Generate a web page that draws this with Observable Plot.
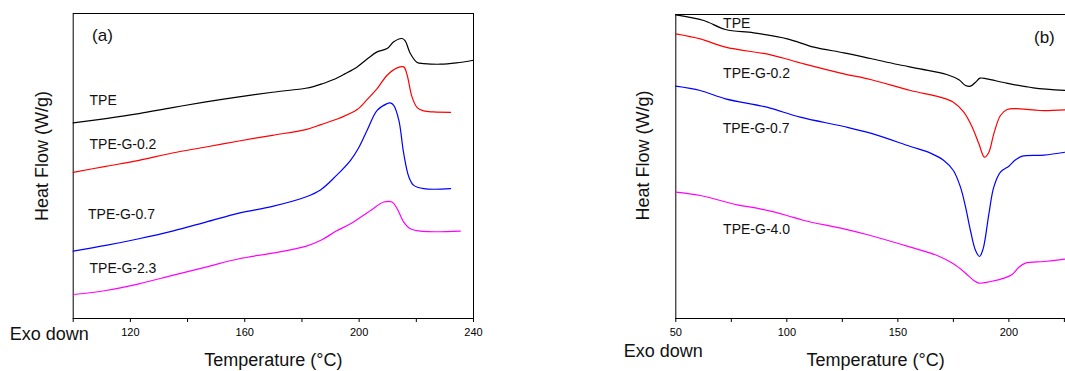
<!DOCTYPE html>
<html>
<head>
<meta charset="utf-8">
<script src="https://cdn.jsdelivr.net/npm/d3@7"></script>
<script src="https://cdn.jsdelivr.net/npm/@observablehq/plot@0.6"></script>
<style>
  html, body { margin: 0; padding: 0; background: #fff; overflow: hidden; }
  #wrap { position: relative; width: 1065px; height: 371px; overflow: hidden; }
  #pa { position: absolute; left: 0; top: 0; }
  #pb { position: absolute; left: 560px; top: 0; }
  svg { font-family: "Liberation Sans", Arial, sans-serif; }
</style>
</head>
<body>
<div id="wrap"><div id="pa"></div><div id="pb"></div></div>
<script>
// ---------- Panel (a): heating scans, [temperature °C, heat flow (arb.)] ----------
const a_TPE = [[100,5.86],[111.4,5.99],[123,6.14],[134.7,6.32],[146.4,6.49],[158,6.64],[169.7,6.78],[181.3,6.90],[184,6.95],[187,7.03],[191.1,7.16],[195,7.33],[199.3,7.54],[203,7.79],[206.3,7.99],[209.8,8.09],[212.1,8.29],[215,8.39],[216.1,8.32],[217.9,7.94],[220.3,7.67],[222.6,7.64],[228.4,7.62],[234,7.66],[240,7.74]];
const a_G02 = [[100,4.38],[111.4,4.56],[123,4.74],[134.7,4.96],[146.4,5.14],[158,5.32],[169.7,5.49],[181.3,5.66],[186.6,5.81],[193,6.00],[199.3,6.26],[203,6.58],[206.3,6.89],[209.8,7.29],[213.3,7.51],[215.6,7.54],[216.8,7.29],[218.5,6.64],[220.3,6.32],[222.6,6.22],[226,6.19],[232,6.18]];
const a_G07 = [[100,2.02],[111.4,2.19],[123,2.39],[134.7,2.62],[146.4,2.89],[158,3.16],[169.7,3.36],[181.3,3.64],[186.6,3.86],[192,4.28],[197,4.74],[200,5.14],[202.8,5.64],[206.3,6.24],[209.8,6.44],[210.8,6.46],[212.1,6.39],[213.9,5.94],[215.6,4.94],[217.4,4.24],[219.1,3.99],[222.6,3.89],[232,3.89]];
const a_G23 = [[100,0.72],[111.4,0.84],[123,1.04],[134.7,1.29],[146.4,1.54],[158,1.79],[169.7,1.96],[181.3,2.16],[187,2.36],[192,2.62],[197,2.84],[204,3.24],[208.6,3.49],[211.5,3.49],[213.3,3.29],[215.6,2.89],[217.9,2.69],[222.6,2.61],[235.4,2.62]];
const a_names = ["TPE", "TPE-G-0.2", "TPE-G-0.7", "TPE-G-2.3"];
const a_labelAt = [[105.7,6.54],[105.7,5.21],[105.2,3.11],[105.7,1.51]];
const a_ticks = [100,120,140,160,180,200,220,240];
const a_tickLabels = [120,160,200,240];

// ---------- Panel (b): cooling scans ----------
const b_TPE = [[50,9.11],[62.6,8.94],[72.4,8.67],[85,8.57],[100.2,8.39],[112.2,8.14],[125.7,7.97],[137.7,7.80],[150,7.62],[160,7.49],[172,7.32],[177.5,7.16],[180.5,6.99],[182.7,6.97],[185,7.09],[187,7.21],[190,7.19],[199,7.06],[211,6.92],[225.5,6.84]];
const b_G02 = [[50,8.54],[61,8.39],[72.4,8.14],[92.7,7.91],[107.7,7.64],[125.7,7.34],[137.7,7.17],[155.7,6.84],[169,6.64],[175,6.49],[179.7,6.19],[183.5,5.74],[186.5,5.24],[189,4.84],[191,4.99],[193.2,5.54],[196.2,6.09],[199.2,6.27],[205,6.29],[214,6.24],[225.5,6.26]];
const b_G07 = [[50,6.97],[61,6.84],[72.4,6.59],[91,6.34],[106,6.04],[125.7,5.76],[137.7,5.56],[155.7,5.16],[164.7,4.96],[170.7,4.74],[175,4.44],[178.2,3.94],[180.5,3.34],[182.7,2.64],[185,2.04],[186.8,1.86],[188.4,2.09],[191,3.14],[193.2,3.94],[196.2,4.39],[200,4.57],[203,4.76],[206,4.87],[215.8,4.90],[225.5,4.99]];
const b_G40 = [[50,3.79],[61,3.69],[77.7,3.41],[88,3.29],[100,3.09],[107.7,2.94],[125.7,2.69],[136,2.52],[155.7,2.14],[167.7,1.89],[175,1.64],[180.5,1.36],[184.2,1.14],[186.5,1.06],[191.8,1.11],[197.8,1.21],[201.5,1.32],[204.5,1.54],[207.5,1.66],[215.8,1.71],[225.5,1.78]];
const b_names = ["TPE", "TPE-G-0.2", "TPE-G-0.7", "TPE-G-4.0"];
const b_labelAt = [[71.3,8.84],[71.3,7.36],[71.1,5.71],[71.3,2.67]];
const b_ticks = [50,75,100,125,150,175,200,225];
const b_tickLabels = [50,100,150,200];

const colors = ["#000000", "#ff0000", "#0000ff", "#ff00ff"];
const font = "Liberation Sans, Arial, sans-serif";

function lineMarks(series) {
  return series.map((s, i) => Plot.line(s, {x: d => d[0], y: d => d[1], stroke: colors[i], strokeWidth: 1.2, curve: "catmull-rom"}));
}
function labelMarks(names, at) {
  return Plot.text(names.map((n, i) => ({n, x: at[i][0], y: at[i][1]})),
    {x: "x", y: "y", text: "n", textAnchor: "start", fontSize: 14, fill: "#111"});
}

// Panel (a)
const plotA = Plot.plot({
  width: 490, height: 371,
  marginLeft: 72.7, marginRight: 17, marginTop: 13, marginBottom: 53,
  style: {fontFamily: font, background: "transparent"},
  x: {domain: [100, 240]},
  y: {domain: [0, 9.14], axis: null},
  marks: [
    Plot.frame({stroke: "#000", strokeWidth: 1}),
    Plot.axisX({ticks: a_ticks, tickSize: 4, tickPadding: 6, fontSize: 11,
      tickFormat: d => a_tickLabels.includes(d) ? String(d) : "", label: null}),
    ...lineMarks([a_TPE, a_G02, a_G07, a_G23]),
    labelMarks(a_names, a_labelAt),
    Plot.text(["(a)"], {x: [106.6], y: [8.47], textAnchor: "start", fontSize: 17, fill: "#111"}),
    Plot.text(["Heat Flow (W/g)"], {frameAnchor: "left", textAnchor: "middle", lineAnchor: "middle", dx: -30.7, dy: -10, rotate: -90, fontSize: 18, fill: "#111"}),
    Plot.text(["Temperature (\u00B0C)"], {frameAnchor: "bottom", textAnchor: "middle", lineAnchor: "middle", dy: 42, fontSize: 18, fill: "#111"}),
    Plot.text(["Exo down"], {frameAnchor: "bottom-left", textAnchor: "start", lineAnchor: "middle", dx: -63.4, dy: 15.5, fontSize: 18, fill: "#111"})
  ]
});
document.getElementById("pa").appendChild(plotA);

// Panel (b)
const plotB = Plot.plot({
  width: 505, height: 371,
  marginLeft: 115.3, marginRight: 0, marginTop: 14, marginBottom: 53,
  style: {fontFamily: font, background: "transparent", overflow: "visible"},
  x: {domain: [50, 225.5]},
  y: {domain: [0, 9.12], axis: null},
  marks: [
    Plot.ruleX([50], {stroke: "#000", strokeWidth: 1}),
    Plot.ruleY([0, 9.12], {stroke: "#000", strokeWidth: 1}),
    Plot.axisX({ticks: b_ticks, tickSize: 4, tickPadding: 6, fontSize: 11,
      tickFormat: d => b_tickLabels.includes(d) ? String(d) : "", label: null}),
    ...lineMarks([b_TPE, b_G02, b_G07, b_G40]),
    labelMarks(b_names, b_labelAt),
    Plot.text(["(b)"], {x: [211.3], y: [8.42], textAnchor: "start", fontSize: 17, fill: "#111"}),
    Plot.text(["Heat Flow (W/g)"], {frameAnchor: "left", textAnchor: "middle", lineAnchor: "middle", dx: -32.3, dy: -11, rotate: -90, fontSize: 18, fill: "#111"}),
    Plot.text(["Temperature (\u00B0C)"], {frameAnchor: "bottom", textAnchor: "middle", lineAnchor: "middle", dx: 5, dy: 42, fontSize: 18, fill: "#111"}),
    Plot.text(["Exo down"], {frameAnchor: "bottom-left", textAnchor: "start", lineAnchor: "middle", dx: -52, dy: 33, fontSize: 18, fill: "#111"})
  ]
});
document.getElementById("pb").appendChild(plotB);
</script>
</body>
</html>
